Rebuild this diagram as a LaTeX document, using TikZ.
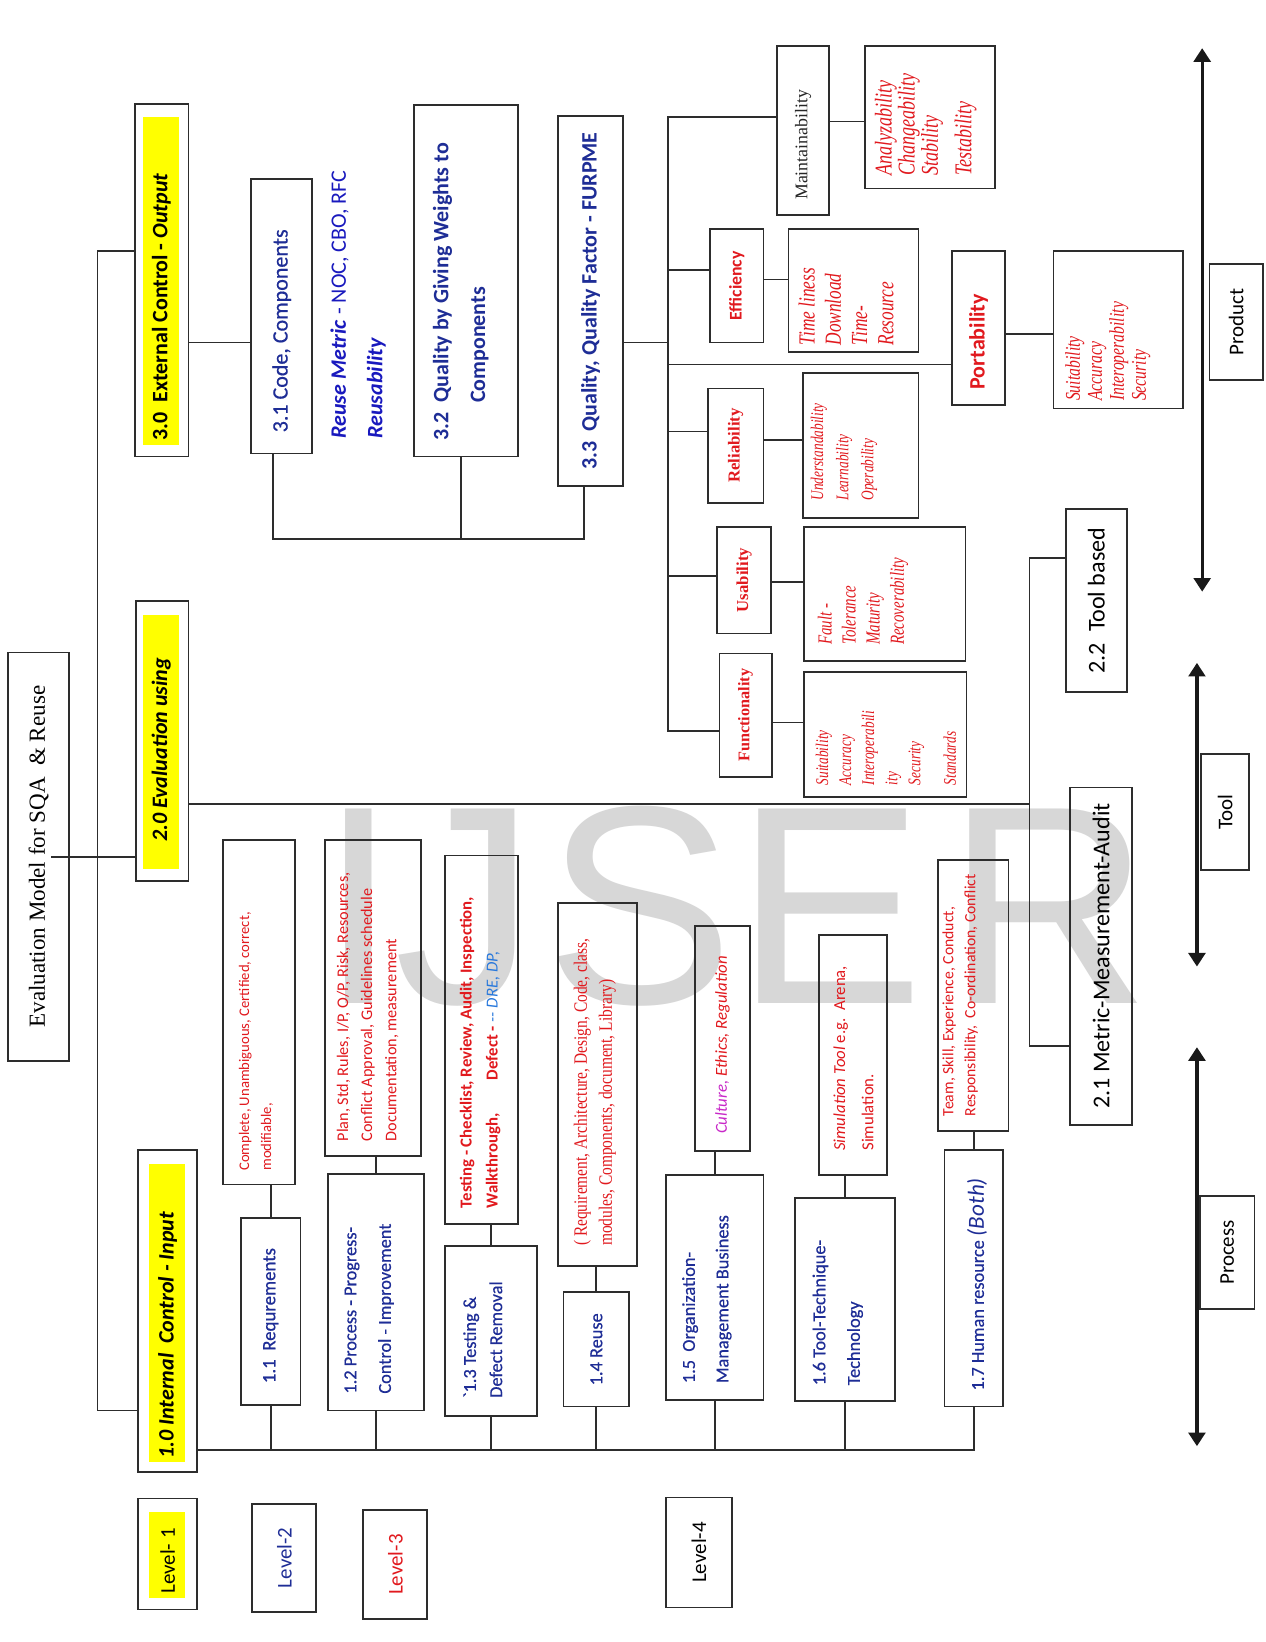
\documentclass[tikz,border=0pt]{standalone}
\usepackage{fontspec}
\setmainfont{Liberation Serif}
\newfontfamily\fcal{Carlito}
\newfontfamily\fcalm[FakeBold=0.5]{Carlito}
\newfontfamily\ftms{Liberation Serif}
\newfontfamily\ftmsc[FakeStretch=0.75]{Liberation Serif}
\newfontfamily\ftmsd[FakeStretch=0.82]{Liberation Serif}
\newfontfamily\farl{Liberation Sans}
\usetikzlibrary{arrows.meta}
\definecolor{dblue}{RGB}{30,45,150}
\definecolor{rblue}{RGB}{25,25,190}
\definecolor{lblue}{RGB}{40,120,220}
\definecolor{dred}{RGB}{225,25,30}
\definecolor{ylw}{RGB}{255,255,0}
\definecolor{lnc}{RGB}{45,45,45}
\definecolor{wmk}{RGB}{215,215,215}
\definecolor{mag}{RGB}{200,40,200}
\newcommand\fz[2]{\fontsize{#1}{#2}\selectfont}
\newcommand\mkbox[7]{\node[#1, minimum width={(#6-#4)*1pt}, minimum height={(#5-#3)*1pt}] (#2) at ({(#3+#5)/2},{(#4+#6)/2}) {#7};}
\tikzset{
  bx/.style={draw=lnc, line width=1.7pt, rotate=90, inner sep=0pt, align=center},
  yb/.style={fill=ylw, rotate=90, inner sep=0pt},
  tx/.style={rotate=90, inner sep=0pt, align=left, anchor=west},
  ln/.style={draw=lnc, line width=1.7pt},
  ax/.style={draw=black!90, line width=3pt, {Triangle[width=16pt,length=13pt]}-{Triangle[width=16pt,length=13pt]}},
  wm/.style={font=\farl\fz{270}{270}, text=wmk, anchor=base, inner sep=0pt},
}
\begin{document}
\begin{tikzpicture}[x=1pt,y=-1pt]
\fill[white] (0,0) rectangle (1208,1568);
\useasboundingbox (0,0) rectangle (1208,1568);
% watermark
\node[wm] (wI) at (343,958) {I};
\node[wm] (wJ) at (444,958) {J};
\node[wm] (wS) at (611,958) {S};
\node[wm] (wE) at (792,958) {E};
\node[wm] (wR) at (1001,958) {R};
% title
\mkbox{bx, font=\ftms\fz{22}{26}}{title}{8}{623}{66}{1013}{Evaluation Model for SQA \ \& Reuse}
% level-1 boxes
\mkbox{bx}{B30}{129}{99}{180}{436}{}
\mkbox{yb}{B30y}{137}{112}{171}{425}{}
\node[tx, font=\fcal\bfseries\fz{21}{24}] (B30t) at (154,421) {3.0\ \ External Control - \textit{Output}};
\mkbox{bx}{B20}{130}{574}{180}{841}{}
\mkbox{yb}{B20y}{137}{587}{171}{830}{}
\node[tx, font=\fcal\bfseries\itshape\fz{21}{24}] (B20t) at (154,804) {2.0 Evaluation using};
\mkbox{bx}{B10}{132}{1098}{188}{1406}{}
\mkbox{yb}{B10y}{142}{1112}{177}{1396}{}
\node[tx, font=\fcal\bfseries\itshape\fz{21}{24}] (B10t) at (160,1393) {1.0 Internal\ \ Control - Input};
% level legend
\mkbox{bx}{L1}{132}{1431}{188}{1537}{}
\mkbox{yb}{L1y}{142}{1444}{177}{1526}{}
\node[tx, font=\fcal\fz{20}{24}] (L1t) at (160,1522) {Level- 1};
\mkbox{bx, font=\fcal\fz{20}{24}, text=dblue}{L2}{241}{1436}{302}{1539}{Level-2}
\mkbox{bx, font=\fcal\fz{20}{24}, text=dred}{L3}{347}{1442}{408}{1546}{Level-3}
\mkbox{bx, font=\fcal\fz{20}{24}}{L4}{636}{1430}{699}{1535}{Level-4}
% 3.x
\mkbox{bx}{B31}{240}{171}{298}{433}{}
\node[tx, font=\fcalm\fz{21}{24}, text=dblue] (B31t) at (269,413) {3.1 Code, Components};
\node[tx, font=\fcal\fz{21}{35}, text=rblue] (RMt) at (342,419) {\textbf{\textit{Reuse Metric}} - NOC, CBO, RFC\\\textbf{\textit{Reusability}}};
\mkbox{bx}{B32}{395}{100}{495}{436}{}
\node[tx, font=\fcal\bfseries\fz{21}{35}, text=dblue] (B32t) at (440,421) {3.2\ \ Quality by Giving Weights to\\\hspace*{36pt}Components};
\mkbox{bx, font=\fcal\bfseries\fz{21}{24}, text=dblue}{B33}{533}{111}{595}{464}{3.3\ \ Quality, Quality Factor - FURPME}
% quality factors
\mkbox{bx}{Maint}{742}{44}{792}{205}{}
\node[tx, font=\ftms\fz{17}{20}, text=black!85] (Maintt) at (767,191) {Maintainability};
\mkbox{bx}{MaintD}{826}{44}{950}{180}{}
\node[tx, font=\ftmsc\itshape\fz{23}{22}, text=dred] (MaintDt) at (884,168) {Analyzability\\Changeability\\Stability\\[10pt]Testability};
\mkbox{bx, font=\fcal\bfseries\fz{17}{20}, text=dred}{Eff}{678}{219}{729}{327}{Efficiency}
\mkbox{bx}{EffD}{753}{219}{877}{336}{}
\node[tx, font=\ftmsc\itshape\fz{22}{25}, text=dred] (EffDt) at (808,330) {Time liness\\Download\\Time-\\Resource};
\mkbox{bx}{Port}{909}{240}{960}{387}{}
\node[tx, font=\fcal\bfseries\fz{21}{24}, text=dred] (Portt) at (934.5,372) {Portability};
\mkbox{bx}{PortD}{1006}{240}{1130}{390}{}
\node[tx, font=\ftmsc\itshape\fz{20}{21}, text=dred] (PortDt) at (1058,383) {Suitability\\Accuracy\\Interoperability\\Security};
\mkbox{bx, font=\ftms\bfseries\fz{16}{20}, text=dred}{Rel}{676}{371}{729}{480}{Reliability}
\mkbox{bx}{RelD}{767}{356}{877}{495}{}
\node[tx, font=\ftmsc\itshape\fz{17}{24}, text=dred] (RelDt) at (806,478) {Understandability\\Learnability\\Operability};
\mkbox{bx, font=\ftms\bfseries\fz{16}{20}, text=dred}{Usa}{685}{503}{736}{605}{Usability}
\mkbox{bx}{UsaD}{768}{503}{922}{631}{}
\node[tx, font=\ftmsc\itshape\fz{19}{23}, text=dred] (UsaDt) at (824,616) {Fault -\\Tolerance\\Maturity\\Recoverability};
\mkbox{bx, font=\ftms\bfseries\fz{15.5}{20}, text=dred}{Fun}{687}{624}{737}{742}{Functionality}
\mkbox{bx}{FunD}{768}{642}{923}{761}{}
\node[tx, font=\ftmsc\itshape\fz{17}{22}, text=dred] (FunDt) at (846,750) {Suitability\\Accuracy\\Interoperabili\\ity\\Security\\[12pt]Standards};
% 2.x
\mkbox{bx, font=\fcal\fz{23}{26}}{B22}{1018}{486}{1076}{661}{2.2\ \ Tool based}
\mkbox{bx, font=\fcal\fz{23}{26}}{B21}{1022}{752}{1081}{1074}{2.1 Metric-Measurement-Audit}
% 1.x
\mkbox{bx}{R11}{230}{1163}{287}{1342}{}
\node[tx, font=\fcalm\fz{18}{22}, text=dblue] (R11t) at (258.5,1321) {1.1\ \ Requrements};
\mkbox{bx}{D11}{213}{802}{282}{1131}{}
\node[tx, font=\fcal\fz{14}{21}, text=dred] (D11t) at (244.5,1118) {Complete, Unambiguous, Certified, correct,\\modifiable,};
\mkbox{bx}{R12}{313}{1121}{405}{1347}{}
\node[tx, font=\fcalm\fz{17.5}{33}, text=dblue] (R12t) at (352.5,1331) {1.2 Process - Progress-\\Control - Improvement};
\mkbox{bx}{D12}{310}{802}{402}{1104}{}
\node[tx, font=\fcal\fz{15.5}{23}, text=dred] (D12t) at (351,1090) {Plan, Std, Rules, I/P, O/P, Risk, Resources,\\Conflict Approval, Guidelines schedule\\Documentation, measurement};
\mkbox{bx}{R13}{425}{1190}{513}{1352}{}
\node[tx, font=\fcalm\fz{17.5}{25}, text=dblue] (R13t) at (461,1335) {`1.3 Testing \&\\Defect Removal};
\mkbox{bx}{D13}{425}{817}{495}{1169}{}
\node[tx, font=\fcal\bfseries\fz{16}{25}, text=dred] (D13t) at (458.5,1154) {Testing - Checklist, Review, Audit, Inspection,\\Walkthrough,\qquad Defect - \textcolor{lblue}{\mdseries\itshape -{}- DRE, DP,}};
\mkbox{bx, font=\fcalm\fz{17.5}{22}, text=dblue}{R14}{538}{1234}{601}{1343}{1.4 Reuse}
\mkbox{bx}{D14}{533}{862}{608}{1209}{}
\node[tx, font=\ftmsd\fz{18}{24}, text=dred] (D14t) at (568,1190) {( Requirement, Architecture, Design, Code, class,\\modules, Components, document, Library)};
\mkbox{bx}{R15}{636}{1122}{729}{1337}{}
\node[tx, font=\fcalm\fz{17.5}{32}, text=dblue] (R15t) at (675,1321) {1.5\ \ Organization-\\Management Business};
\mkbox{bx}{D15}{664}{884}{716}{1099}{}
\node[tx, font=\fcal\itshape\fz{16}{20}, text=dred] (D15t) at (690,1083) {\textcolor{mag}{Culture,} Ethics, Regulation};
\mkbox{bx}{R16}{759}{1144}{855}{1338}{}
\node[tx, font=\fcalm\fz{17.5}{33}, text=dblue] (R16t) at (800,1323) {1.6 Tool-Technique-\\Technology};
\mkbox{bx}{D16}{782}{893}{847}{1122}{}
\node[tx, font=\fcal\fz{16}{27}, text=dred] (D16t) at (815,1099) {\textit{Simulation Tool} e.g.\ \ Arena,\\Simulation.};
\mkbox{bx}{R17}{902}{1098}{958}{1343}{}
\node[tx, font=\fcalm\fz{17.5}{22}, text=dblue] (R17t) at (933,1328) {1.7 Human resource {\fcal\itshape\fz{22}{22}(Both)}};
\mkbox{bx}{D17}{896}{821}{963}{1080}{}
\node[tx, font=\fcal\fz{15}{21}, text=dred] (D17t) at (917,1066) {Team, Skill, Experience, Conduct,\\Responsibility,\ \ Co-ordination, Conflict};
% axes
\coordinate (pa1) at (1148,46); \coordinate (pa2) at (1148,565);
\coordinate (ta1) at (1143,633); \coordinate (ta2) at (1143,923);
\coordinate (ra1) at (1143,1000); \coordinate (ra2) at (1143,1381);
\draw[ax] (pa1) -- (pa2);
\draw[ax] (ta1) -- (ta2);
\draw[ax] (ra1) -- (ra2);
\mkbox{bx, font=\fcal\fz{20}{24}}{Prod}{1155}{252}{1206}{363}{Product}
\mkbox{bx, font=\fcal\fz{20}{24}}{Tool}{1147}{720}{1193}{831}{Tool}
\mkbox{bx, font=\fcal\fz{20}{24}}{Proc}{1146}{1142}{1198}{1250}{Process}
% connectors: main spine
\coordinate (sp1) at (93,240); \coordinate (sp2) at (93,1347);
\draw[ln] (B30.north |- sp1) -- (sp1) -- (sp2) -- (B10.north |- sp2);
\coordinate (tc) at (49,818);
\draw[ln] (tc) -- (B20.north |- tc);
\draw[ln] (B30.south |- 0,327) -- (B31.north |- 0,327);
% bracket 3.x
\coordinate (bk1) at (261,515); \coordinate (bk2) at (440,515); \coordinate (bk3) at (558,515);
\draw[ln] (B31.west -| bk1) -- (bk1) -- (bk3) -- (B33.west -| bk3);
\draw[ln] (B32.west -| bk2) -- (bk2);
% quality spine
\coordinate (s3t) at (638,112); \coordinate (s3b) at (638,698);
\draw[ln] (Maint.north |- s3t) -- (s3t) -- (s3b) -- (Fun.north |- s3b);
\draw[ln] (B33.south |- 0,327) -- (s3t |- 0,327);
\draw[ln] (s3t |- 0,258) -- (Eff.north |- 0,258);
\draw[ln] (s3t |- 0,348) -- (Port.north |- 0,348);
\draw[ln] (s3t |- 0,412) -- (Rel.north |- 0,412);
\draw[ln] (s3t |- 0,550) -- (Usa.north |- 0,550);
\draw[ln] (Maint.south |- 0,116) -- (MaintD.north |- 0,116);
\draw[ln] (Eff.south |- 0,267) -- (EffD.north |- 0,267);
\draw[ln] (Port.south |- 0,319) -- (PortD.north |- 0,319);
\draw[ln] (Rel.south |- 0,420) -- (RelD.north |- 0,420);
\draw[ln] (Usa.south |- 0,556) -- (UsaD.north |- 0,556);
\draw[ln] (Fun.south |- 0,690) -- (FunD.north |- 0,690);
% 2.x
\coordinate (v2t) at (983,533); \coordinate (v2b) at (983,999);
\draw[ln] (B20.south |- 0,768) -- (v2t |- 0,768);
\draw[ln] (B22.north |- v2t) -- (v2t) -- (v2b) -- (B21.north |- v2b);
% 1.x
\coordinate (b1e) at (931,1385);
\draw[ln] (B10.south |- b1e) -- (b1e);
\foreach \r/\d in {R11/D11,R12/D12,R13/D13,R14/D14,R15/D15,R16/D16,R17/D17}{
  \draw[ln] (\r.west) -- (\r.west |- b1e);
  \draw[ln] (\r.east) -- (\r.east |- \d.west);
}
\end{tikzpicture}
\end{document}
